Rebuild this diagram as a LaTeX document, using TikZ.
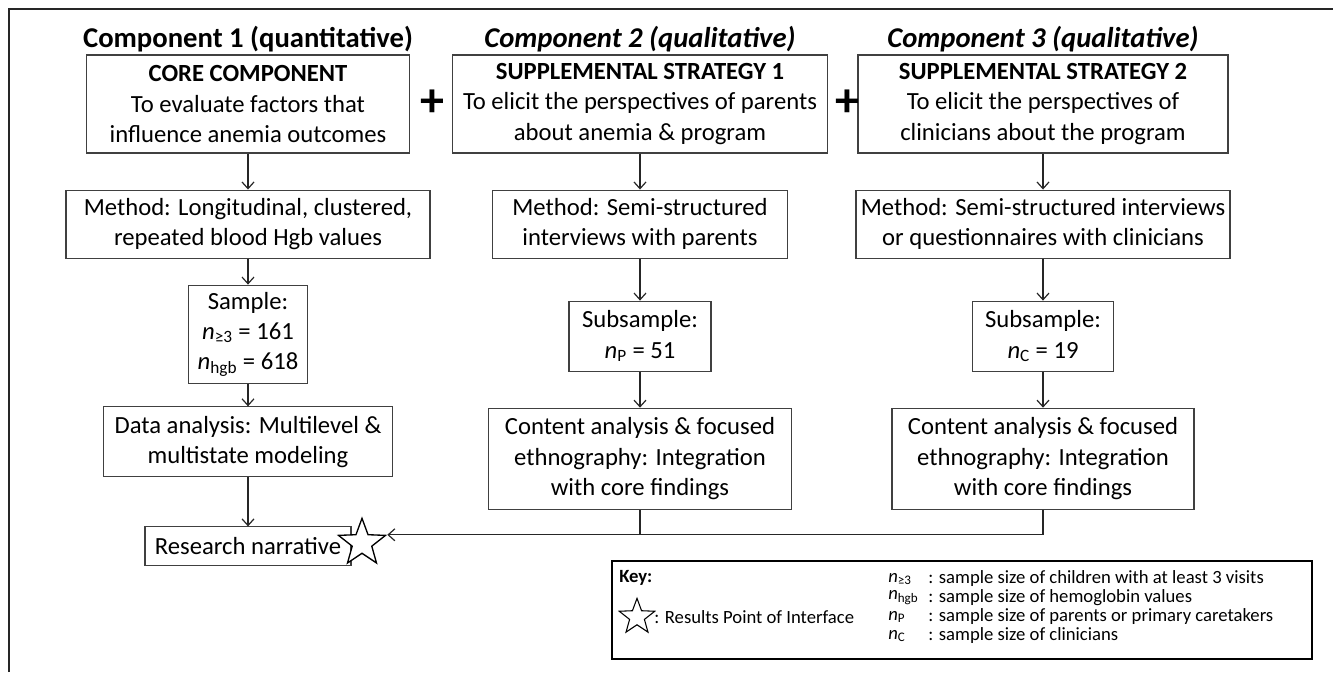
\documentclass[tikz,border=0pt]{standalone}
\usepackage{fontspec}
\setmainfont{Carlito}
\usetikzlibrary{shapes.geometric}
\usetikzlibrary{arrows.meta}
\usetikzlibrary{positioning}
\newcommand{\nsz}[1]{\textit{n}\textsubscript{#1}}
\tikzset{
	stagebox/.style={rectangle, draw=black!75, line width=0.8pt, align=center, inner sep=2pt, font=\fontsize{18.5}{22.8}\selectfont},
	heading/.style={inner sep=0pt, font=\fontsize{21.5}{25}\selectfont\bfseries},
	plus/.style={inner sep=0pt, font=\fontsize{36}{36}\selectfont\bfseries},
	poi/.style={star, star points=5, star point ratio=2.4, draw=black, line width=1pt, fill=white, inner sep=0pt},
	arrow/.style={draw=black!85, line width=0.9pt, -{Straight Barb[length=5pt,width=9pt]}},
	link/.style={draw=black!85, line width=0.9pt},
	keytext/.style={inner sep=0pt, anchor=west, font=\fontsize{14}{16}\selectfont}
}

\begin{document}
\begin{tikzpicture}[x=0.75pt, y=-0.75pt]
\useasboundingbox (0,0) rectangle (1333,672);
\draw[black!85, line width=1.5pt] (9,672) -- (9,9) -- (1333,9);

% top row
\node[stagebox, minimum width=242pt, minimum height=73.5pt] (core) at (248,104) {\textbf{CORE COMPONENT}\\To evaluate factors that\\influence anemia outcomes};
\node[stagebox, minimum width=281pt, minimum height=73.5pt] (strat1) at (640,104) {\textbf{SUPPLEMENTAL STRATEGY 1}\\To elicit the perspectives of parents\\about anemia \& program};
\node[stagebox, minimum width=277.5pt, minimum height=73.5pt] (strat2) at (1043,104) {\textbf{SUPPLEMENTAL STRATEGY 2}\\To elicit the perspectives of\\clinicians about the program};

\node[heading, above=1.5pt of core] (comp1) {Component 1 (quantitative)};
\node[heading, above=1.5pt of strat1] (comp2) {\textit{Component 2 (qualitative)}};
\node[heading, above=1.5pt of strat2] (comp3) {\textit{Component 3 (qualitative)}};

\node[plus] (plus1) at (432,103) {+};
\node[plus] (plus2) at (847,103) {+};

% component 1
\node[stagebox, below=27pt of core, minimum width=273pt, minimum height=51pt] (meth1) {Method: Longitudinal, clustered,\\repeated blood Hgb values};
\node[stagebox, below=19.5pt of meth1, minimum width=89pt, minimum height=74pt] (samp1) {Sample:\\\nsz{≥3} = 161\\\nsz{hgb} = 618};
\node[stagebox, below=16.5pt of samp1, minimum width=217pt, minimum height=52.5pt] (anal1) {Data analysis: Multilevel \&\\multistate modeling};
\node[stagebox, below=36.75pt of anal1, minimum width=154.5pt, minimum height=29pt] (narr) {Research narrative};
\node[poi, minimum size=37pt] (poi) at (362,543) {};

% component 2
\node[stagebox, below=27pt of strat1, minimum width=221pt, minimum height=51pt] (meth2) {Method: Semi-structured\\interviews with parents};
\node[stagebox, below=31.5pt of meth2, minimum width=106.5pt, minimum height=52.5pt] (samp2) {Subsample:\\\nsz{P} = 51};
\node[stagebox, below=27pt of samp2, minimum width=227pt, minimum height=76pt] (cont2) {Content analysis \& focused\\ethnography: Integration\\with core findings};

% component 3
\node[stagebox, below=27pt of strat2, minimum width=280.5pt, minimum height=51pt] (meth3) {Method: Semi-structured interviews\\or questionnaires with clinicians};
\node[stagebox, below=31.5pt of meth3, minimum width=106pt, minimum height=52.5pt] (samp3) {Subsample:\\\nsz{C} = 19};
\node[stagebox, below=27pt of samp3, minimum width=226.5pt, minimum height=76pt] (cont3) {Content analysis \& focused\\ethnography: Integration\\with core findings};

\draw[arrow] (core) -- (meth1);
\draw[arrow] (meth1) -- (samp1);
\draw[arrow] (samp1) -- (anal1);
\draw[arrow] (anal1) -- (narr);
\draw[arrow] (strat1) -- (meth2);
\draw[arrow] (meth2) -- (samp2);
\draw[arrow] (samp2) -- (cont2);
\draw[arrow] (strat2) -- (meth3);
\draw[arrow] (meth3) -- (samp3);
\draw[arrow] (samp3) -- (cont3);
\draw[arrow] (cont3.south) |- (poi.outer point 5);
\draw[link] (cont2.south) -- (cont2.south |- poi.outer point 5);

% key
\node[draw=black, line width=1.4pt, minimum width=525pt, minimum height=73.5pt, inner sep=0pt] (key) at (962,610) {};
\node[keytext, font=\fontsize{14}{16}\selectfont\bfseries] (keyhead) at (619,578) {Key:};
\node[poi, minimum size=28pt, line width=0.8pt] (keystar) at (637,617) {};
\node[keytext] (keypoi) at (654,617) {: Results Point of Interface};
\node[keytext] (sym1) at (888,579) {\nsz{≥3}};
\node[keytext] (def1) at (928,579) {: sample size of children with at least 3 visits};
\node[keytext] (sym2) at (888,598) {\nsz{hgb}};
\node[keytext] (def2) at (928,598) {: sample size of hemoglobin values};
\node[keytext] (sym3) at (888,617) {\nsz{P}};
\node[keytext] (def3) at (928,617) {: sample size of parents or primary caretakers};
\node[keytext] (sym4) at (888,636) {\nsz{C}};
\node[keytext] (def4) at (928,636) {: sample size of clinicians};
\end{tikzpicture}
\end{document}
